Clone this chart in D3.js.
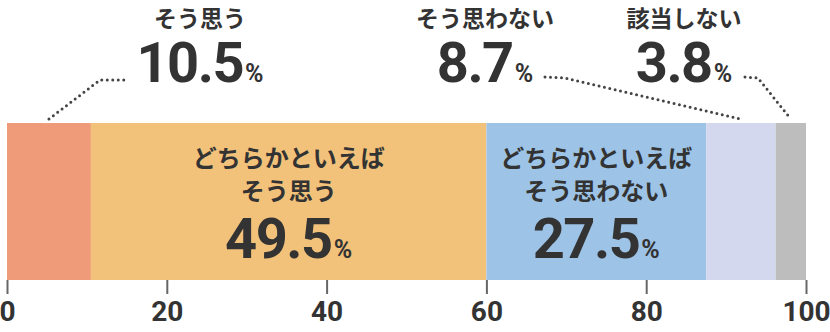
<!DOCTYPE html>
<html><head><meta charset="utf-8">
<script src="https://cdn.jsdelivr.net/npm/d3@7/dist/d3.min.js"></script>
<style>
html,body{margin:0;padding:0;background:#fff;}
svg{display:block;}
text{font-family:Roboto,"Noto Sans CJK JP",sans-serif;font-weight:bold;fill:#333;}
</style></head>
<body>
<svg id="c" width="830" height="332"></svg>
<script>
const categories = ["そう思う","どちらかといえばそう思う","どちらかといえばそう思わない","そう思わない","該当しない"];
const values = [10.5, 49.5, 27.5, 8.7, 3.8];
const labelLines = [["そう思う"],["どちらかといえば","そう思う"],["どちらかといえば","そう思わない"],["そう思わない"],["該当しない"]];
const insideLabel = [false, true, true, false, false];
const tickValues = [0, 20, 40, 60, 80, 100];
const colors = ["#EF9A78","#F2C17A","#9DC3E6","#D3D8EF","#BDBDBD"];

const svg = d3.select("#c");
const x = d3.scaleLinear().domain([0,100]).range([7,806]);
const barTop = 123, barBottom = 280;

let cum = 0;
const segs = values.map((v,i)=>{const s={i,v,start:cum,end:cum+v,cat:categories[i]};cum+=v;return s;});

svg.selectAll("rect.seg").data(segs).join("rect")
  .attr("class","seg")
  .attr("x",d=>x(d.start)).attr("width",d=>x(d.end)-x(d.start))
  .attr("y",barTop).attr("height",barBottom-barTop)
  .attr("fill",d=>colors[d.i]);

// axis
const ax = svg.append("g").attr("transform",`translate(0,${barBottom})`)
  .call(d3.axisBottom(x).tickValues(tickValues).tickSize(14).tickPadding(8).tickFormat(d3.format("d")));
ax.select(".domain").remove();
ax.selectAll(".tick line").attr("stroke","#666").attr("stroke-width",2);
ax.selectAll(".tick text").attr("fill","#333").style("font-size","28px").style("font-weight","bold")
  .style("font-family","Roboto,sans-serif").attr("dy","0.71em").attr("y",21);

// number + % label
function numLabel(g, cx, baseline, v, big, small){
  const t = g.append("text").attr("x",cx).attr("y",baseline).attr("text-anchor","middle");
  t.append("tspan").text(v.toFixed(1)).style("font-size",big+"px").style("letter-spacing","-1.5px");
  t.append("tspan").text("%").style("font-size",small+"px").attr("dx",2);
}
segs.filter(d=>insideLabel[d.i]).forEach(d=>{
  const cx = x((d.start+d.end)/2);
  const g = svg.append("g");
  labelLines[d.i].forEach((ln,k)=>{
    g.append("text").attr("x",cx).attr("y",167+k*33).attr("text-anchor","middle")
      .style("font-size","24px").style("font-family",'"Noto Sans CJK JP",sans-serif').text(ln);
  });
  numLabel(g, cx, 258, d.v, 56, 25);
});

// outside labels with dotted leaders
const outside = [
  {i:0, cx:200, side:"left"},
  {i:3, cx:485, side:"right"},
  {i:4, cx:684, side:"right"}
];
outside.forEach(o=>{
  const d = segs[o.i];
  const g = svg.append("g");
  g.append("text").attr("x",o.cx).attr("y",27).attr("text-anchor","middle")
    .style("font-size","23px").style("font-family",'"Noto Sans CJK JP",sans-serif').text(labelLines[o.i][0]);
  numLabel(g, o.cx, 82, d.v, 56, 25);
  const ax0 = x((d.start+d.end)/2), ay = barTop-4;
  let pts;
  if(o.side==="left"){
    const ex = o.cx-73;
    pts = [[ax0,ay],[ex-27,80],[ex,80]];
  } else {
    const sx = o.cx + (o.i===3?60:61);
    pts = [[sx,77],[sx+(o.i===3?20:13),78],[ax0,ay]];
  }
  g.append("path").attr("d",d3.line()(pts)).attr("fill","none")
    .attr("stroke","#444").attr("stroke-width",3).attr("stroke-linecap","round")
    .attr("stroke-dasharray","0 5.5");
});
</script>
</body></html>
